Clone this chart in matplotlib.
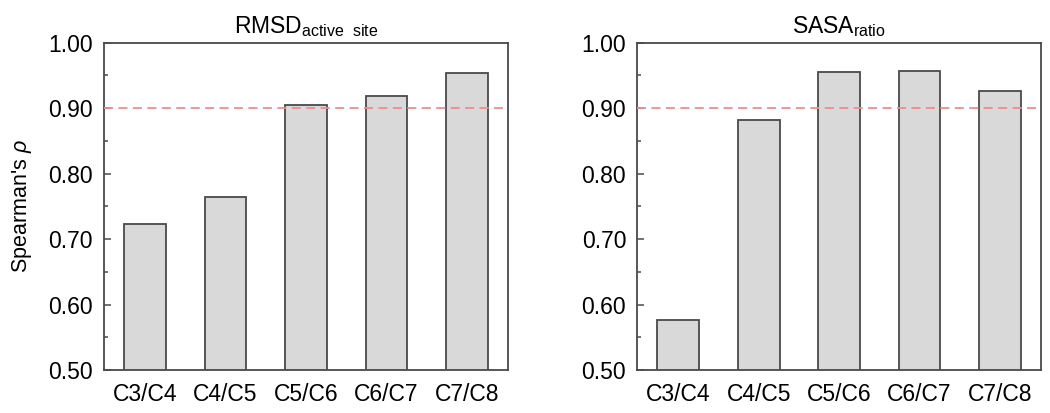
import matplotlib
matplotlib.use("Agg")
import matplotlib.pyplot as plt
from matplotlib.ticker import MultipleLocator, FormatStrFormatter

plt.rcParams['font.family'] = ['Liberation Sans', 'DejaVu Sans']
plt.rcParams['mathtext.fontset'] = 'custom'
plt.rcParams['mathtext.rm'] = 'Liberation Sans'
plt.rcParams['mathtext.it'] = 'Liberation Sans:italic'

labels = ['C3/C4', 'C4/C5', 'C5/C6', 'C6/C7', 'C7/C8']
rmsd_rho = [0.723, 0.764, 0.905, 0.919, 0.954]
sasa_rho = [0.576, 0.882, 0.956, 0.957, 0.926]
titles = [r'$\mathrm{RMSD}_{\mathrm{active\ \ site}}$', r'$\mathrm{SASA}_{\mathrm{ratio}}$']
threshold = 0.90

edge = '#4a4a4a'
fig = plt.figure(figsize=(10.5, 4.13), dpi=100)
ax1 = fig.add_axes([0.0990, 0.1041, 0.3848, 0.7925])
ax2 = fig.add_axes([0.6070, 0.1041, 0.3842, 0.7925])

for ax, vals, title in zip([ax1, ax2], [rmsd_rho, sasa_rho], titles):
    x = range(len(labels))
    ax.bar(x, vals, width=0.52, color='#d9d9d9', edgecolor=edge, linewidth=1.3, zorder=2)
    ax.axhline(threshold, color='#f28b8b', linestyle=(0, (5, 3)), linewidth=1.3, zorder=3)
    ax.set_xlim(-0.51, 4.51)
    ax.set_ylim(0.5, 1.0)
    ax.set_xticks(list(x))
    ax.set_xticklabels(labels)
    ax.yaxis.set_major_locator(MultipleLocator(0.1))
    ax.yaxis.set_minor_locator(MultipleLocator(0.05))
    ax.yaxis.set_major_formatter(FormatStrFormatter('%.2f'))
    ax.tick_params(axis='y', which='major', direction='in', length=5, width=1.1,
                   color=edge, labelsize=16.5, pad=8)
    ax.tick_params(axis='y', which='minor', direction='in', length=3, width=1.1, color=edge)
    ax.tick_params(axis='x', direction='in', length=4, width=1.1, color=edge,
                   labelsize=16.5, pad=9)
    for s in ax.spines.values():
        s.set_color(edge)
        s.set_linewidth(1.3)
    ax.set_title(title, fontsize=16.5, pad=7)

ax1.set_ylabel(r"Spearman's $\it{\rho}$", fontsize=15.5, labelpad=10)

fig.savefig('out.png', dpi=100)
